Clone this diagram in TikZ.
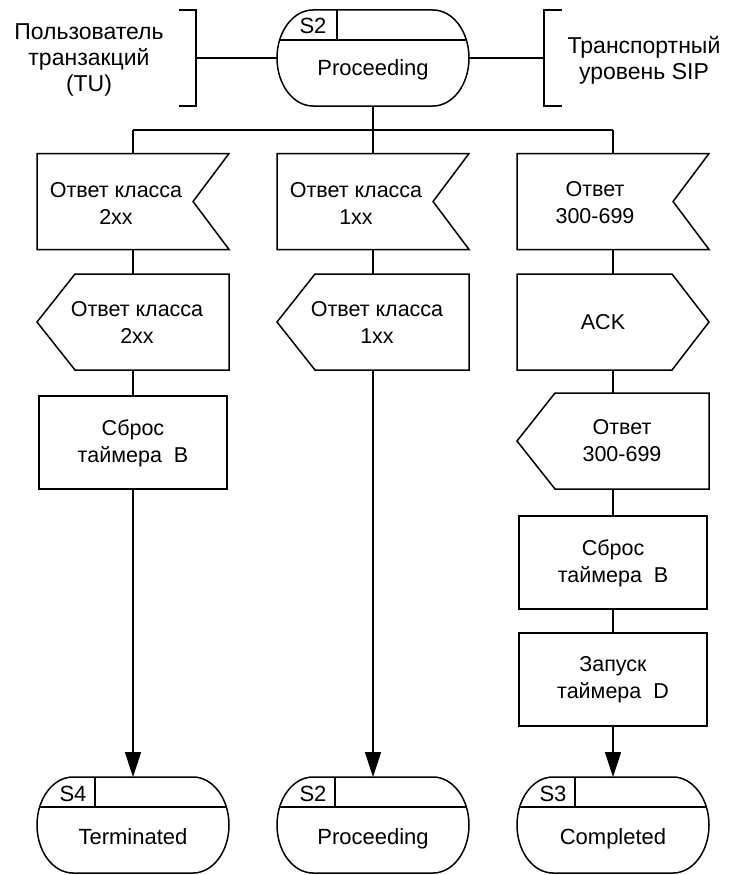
\documentclass[tikz,border=0pt]{standalone}
\usepackage{fontspec}
\setmainfont{Liberation Sans}
\usetikzlibrary{arrows.meta}

% outline styles
\tikzset{
  shp/.style={line width=1.5pt, line join=miter},
  conn/.style={line width=1.5pt},
  arr/.style={line width=1.5pt, -{Triangle[length=25pt,width=16pt]}},
  frame/.style={inner sep=0pt, outer sep=0pt, minimum width=192pt, minimum height=96pt},
  procframe/.style={inner sep=0pt, outer sep=0pt, minimum width=188pt, minimum height=93pt},
  txt/.style={inner sep=0pt, align=center, font=\fontsize{21.5}{27}\selectfont},
  sidetxt/.style={inner sep=0pt, align=center, font=\fontsize{23}{26}\selectfont},
  tagtxt/.style={inner sep=0pt, anchor=base, font=\fontsize{22}{24}\selectfont},
}

% signal received: notch cut into the right side
\newcommand\recvshape[1]{%
  \draw[shp] (#1.north west) -- (#1.north east) -- ([xshift=-36pt]#1.east)
    -- (#1.south east) -- (#1.south west) -- cycle;}
% signal sent to the right
\newcommand\sendright[1]{%
  \draw[shp] (#1.north west) -- ([xshift=-37pt]#1.north east) -- (#1.east)
    -- ([xshift=-37pt]#1.south east) -- (#1.south west) -- cycle;}
% signal sent to the left
\newcommand\sendleft[1]{%
  \draw[shp] ([xshift=38pt]#1.north west) -- (#1.north east) -- (#1.south east)
    -- ([xshift=38pt]#1.south west) -- (#1.west) -- cycle;}
% state symbol with its tag cell
\newcommand\stateshape[3]{% node name, tag, tag-cell width
  \draw[shp] ([xshift=36pt]#1.north west) -- ([xshift=-36pt]#1.north east)
    arc[start angle=90,end angle=-90,x radius=36pt,y radius=48pt]
    -- ([xshift=36pt]#1.south west)
    arc[start angle=270,end angle=90,x radius=36pt,y radius=48pt] -- cycle;
  \draw[conn] ([xshift=2.8pt,yshift=-30pt]#1.north west) -- ([xshift=-2.8pt,yshift=-30pt]#1.north east);
  \draw[conn] ([xshift=#3]#1.north west) -- ([xshift=#3,yshift=-30pt]#1.north west);
  \node[tagtxt] (#1tag) at ([xshift=36pt,yshift=-24pt]#1.north west) {#2};}

\begin{document}
\begin{tikzpicture}[x=1pt,y=-1pt]
  \useasboundingbox (0,0) rectangle (730,875);

  % ---- initial state and its environment ----
  \node[frame] (top) at (373,58) {};
  \stateshape{top}{S2}{60pt}
  \node[tagtxt] (toptext) at (373,75) {Proceeding};

  \node[sidetxt] (tu) at (89,60) {Пользователь\\транзакций\\(TU)};
  \node[sidetxt] (sip) at (644,60) {Транспортный\\уровень SIP};

  \coordinate (brL) at (196,58);
  \coordinate (brR) at (544,58);
  \draw[shp] (179,10) -- (196,10) -- (196,106) -- (179,106);
  \draw[shp] (562,10) -- (544,10) -- (544,106) -- (562,106);
  \draw[conn] (brL) -- (top.west);
  \draw[conn] (top.east) -- (brR);

  % ---- branch bus ----
  \coordinate (busL) at (133,130);
  \coordinate (busR) at (613,130);
  \draw[conn] (top.south) -- (top.south |- busL);
  \draw[conn] (busL) -- (busR);

  % ---- column 1: 2xx ----
  \node[frame] (r1) at (133,201.5) {};
  \recvshape{r1}
  \node[txt] (r1t) at (116,203) {Ответ класса\\2xx};
  \node[frame] (s1) at (133,322) {};
  \sendleft{s1}
  \node[txt] (s1t) at (137,322) {Ответ класса\\2xx};
  \node[procframe] (p1) at (133,442.5) {};
  \draw[shp] (p1.north west) rectangle (p1.south east);
  \node[txt] (p1t) at (133,443) {Сброс\\таймера~ B};

  % ---- column 2: 1xx ----
  \node[frame] (r2) at (373,201.5) {};
  \recvshape{r2}
  \node[txt] (r2t) at (356,203) {Ответ класса\\1xx};
  \node[frame] (s2) at (373,322) {};
  \sendleft{s2}
  \node[txt] (s2t) at (377,322) {Ответ класса\\1xx};

  % ---- column 3: 300-699 ----
  \node[frame] (r3) at (613,201.5) {};
  \recvshape{r3}
  \node[txt] (r3t) at (595,203) {Ответ\\300-699};
  \node[frame] (a3) at (613,322) {};
  \sendright{a3}
  \node[txt] (a3t) at (603,322) {ACK};
  \node[frame] (s3) at (613,441) {};
  \sendleft{s3}
  \node[txt] (s3t) at (622,441) {Ответ\\300-699};
  \node[procframe] (p3) at (613,562.5) {};
  \draw[shp] (p3.north west) rectangle (p3.south east);
  \node[txt] (p3t) at (613,563) {Сброс\\таймера~ B};
  \node[procframe] (q3) at (613,679.5) {};
  \draw[shp] (q3.north west) rectangle (q3.south east);
  \node[txt] (q3t) at (613,680) {Запуск\\таймера~ D};

  % ---- final states ----
  \node[frame] (e1) at (133,825) {};
  \stateshape{e1}{S4}{58pt}
  \node[tagtxt] (e1text) at (133,844) {Terminated};
  \node[frame] (e2) at (373,825) {};
  \stateshape{e2}{S2}{58pt}
  \node[tagtxt] (e2text) at (373,844) {Proceeding};
  \node[frame] (e3) at (613,825) {};
  \stateshape{e3}{S3}{58pt}
  \node[tagtxt] (e3text) at (613,844) {Completed};

  % ---- connectors ----
  \draw[conn] (r1.north) -- (busL);
  \draw[conn] (r2.north) -- (r2.north |- busL);
  \draw[conn] (r3.north) -- (busR);
  \draw[conn] (r1.south) -- (s1.north);
  \draw[conn] (s1.south) -- (p1.north);
  \draw[arr] (p1.south) -- (e1.north);
  \draw[conn] (r2.south) -- (s2.north);
  \draw[arr] (s2.south) -- (e2.north);
  \draw[conn] (r3.south) -- (a3.north);
  \draw[conn] (a3.south) -- (s3.north);
  \draw[conn] (s3.south) -- (p3.north);
  \draw[conn] (p3.south) -- (q3.north);
  \draw[arr] (q3.south) -- (e3.north);
\end{tikzpicture}
\end{document}
